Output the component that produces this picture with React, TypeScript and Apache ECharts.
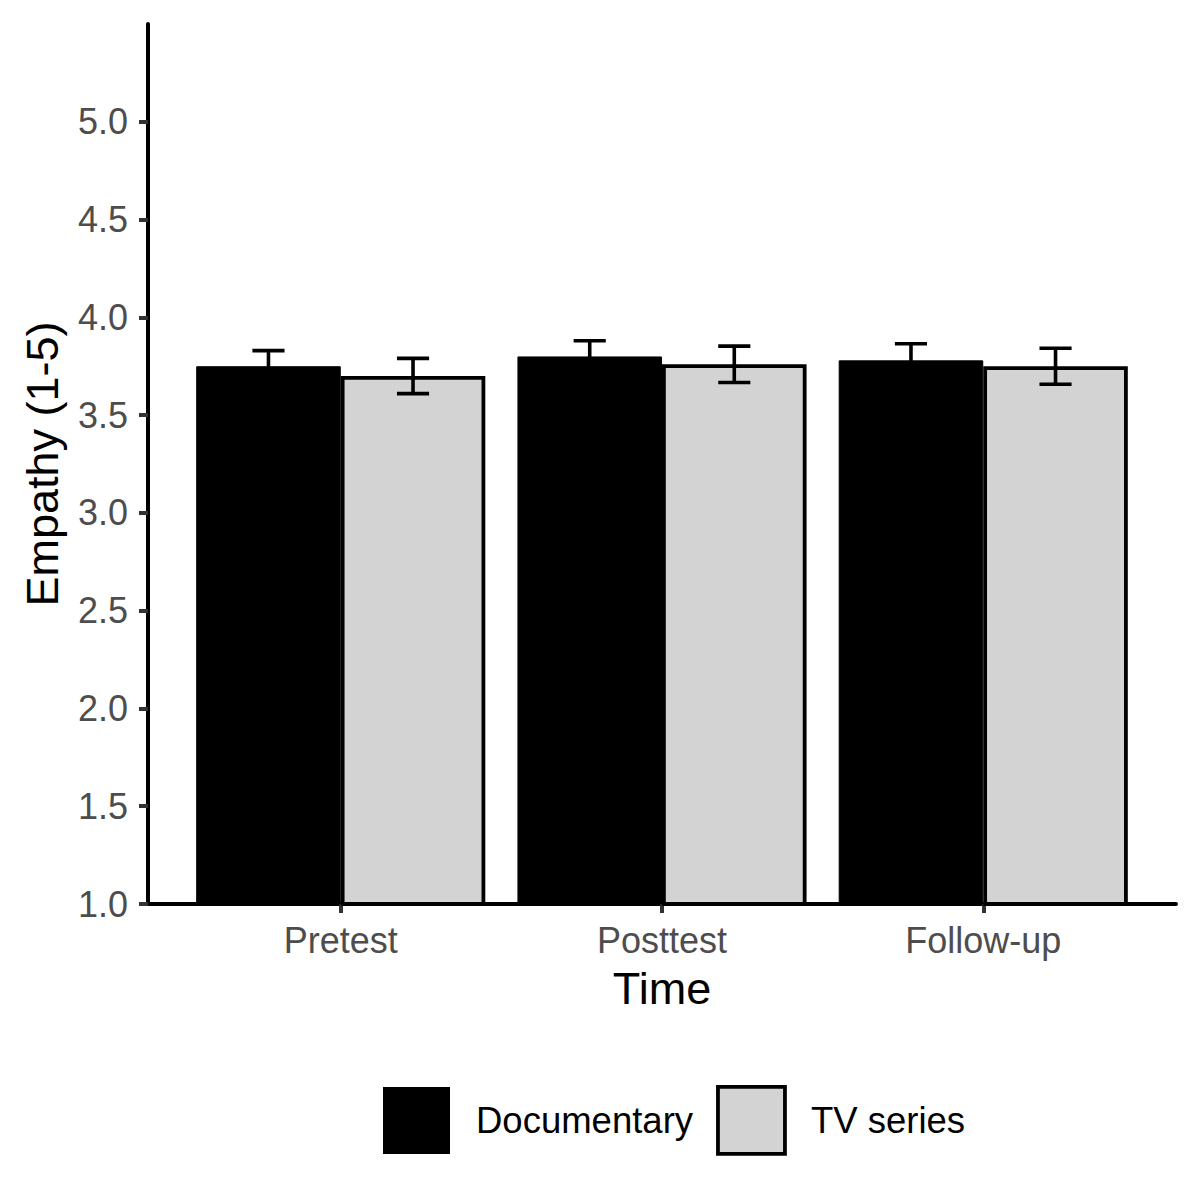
import React, { useEffect, useRef } from 'react';
import * as echarts from 'echarts';

const categories = ['Pretest', 'Posttest', 'Follow-up'];
const categoryPositions = [1, 2, 3];
const seriesNames = ['Documentary', 'TV series'];
const documentaryMeans = [3.75, 3.8, 3.78];
const documentarySE = [0.08, 0.08, 0.085];
const tvMeans = [3.7, 3.76, 3.75];
const tvSE = [0.09, 0.093, 0.092];
const yTicks = [1.0, 1.5, 2.0, 2.5, 3.0, 3.5, 4.0, 4.5, 5.0];

const FONT = '"Liberation Sans", Arial, sans-serif';

export default function App() {
  const ref = useRef<HTMLDivElement>(null);

  useEffect(() => {
    if (!ref.current) return;
    const chart = echarts.init(ref.current, null, { renderer: 'svg' });

    const errData = [
      ...documentaryMeans.map((m, i) => [categoryPositions[i], m, documentarySE[i], -1]),
      ...tvMeans.map((m, i) => [categoryPositions[i], m, tvSE[i], 1]),
    ];

    const option: any = {
      animation: false,
      backgroundColor: '#fff',
      textStyle: { fontFamily: FONT },
      grid: { left: 148, right: 24, top: 24, bottom: 274, containLabel: false },
      legend: {
        left: 383,
        top: 1085,
        padding: 0,
        itemWidth: 67,
        itemHeight: 67,
        itemGap: 23,
        icon: 'rect',
        textStyle: { fontSize: 36.5, color: '#000', fontFamily: FONT, padding: [0, 0, 0, 21] },
        data: [
          { name: seriesNames[0], itemStyle: { color: '#000', borderWidth: 0 } },
          { name: seriesNames[1], itemStyle: { color: '#D3D3D3', borderColor: '#000', borderWidth: 3.8 } },
        ],
      },
      xAxis: {
        type: 'value',
        min: 0.4,
        max: 3.6,
        name: 'Time',
        nameLocation: 'middle',
        nameGap: 62,
        nameTextStyle: { fontSize: 45, color: '#000', fontFamily: FONT },
        axisLine: { show: true, onZero: false, lineStyle: { color: '#000', width: 4 } },
        axisTick: { show: true, customValues: categoryPositions, length: 9, lineStyle: { color: '#333', width: 4 } },
        axisLabel: {
          customValues: categoryPositions,
          formatter: (v: number) => categories[Math.round(v) - 1] ?? '',
          fontSize: 36,
          color: '#4D4D4D',
          margin: 18,
          fontFamily: FONT,
        },
        splitLine: { show: false },
      },
      yAxis: {
        type: 'value',
        min: 1,
        max: 5.5,
        name: 'Empathy (1-5)',
        nameLocation: 'middle',
        nameGap: 83,
        nameTextStyle: { fontSize: 45, color: '#000', fontFamily: FONT },
        axisLine: { show: true, onZero: false, lineStyle: { color: '#000', width: 4 } },
        axisTick: { show: true, customValues: yTicks, length: 9, lineStyle: { color: '#333', width: 4 } },
        axisLabel: {
          customValues: yTicks,
          formatter: (v: number) => v.toFixed(1),
          fontSize: 36,
          color: '#4D4D4D',
          margin: 20,
          fontFamily: FONT,
        },
        splitLine: { show: false },
      },
      series: [
        {
          name: seriesNames[0],
          type: 'bar',
          barWidth: '45%',
          barGap: '0%',
          data: documentaryMeans.map((v, i) => [categoryPositions[i], v]),
          itemStyle: { color: '#000', borderColor: '#000', borderWidth: 1 },
          z: 2,
        },
        {
          name: seriesNames[1],
          type: 'bar',
          barWidth: '45%',
          barGap: '0%',
          data: tvMeans.map((v, i) => [categoryPositions[i], v]),
          itemStyle: { color: '#D3D3D3', borderColor: '#000', borderWidth: 3.8 },
          z: 2,
        },
        {
          name: 'errors',
          type: 'custom',
          z: 5,
          data: errData,
          encode: { x: 0, y: 1 },
          renderItem: (params: any, api: any) => {
            const x = api.value(0);
            const m = api.value(1);
            const se = api.value(2);
            const side = api.value(3);
            const c = api.coord([x, m]);
            const halfBar = api.size([0.225, 0])[0];
            const capHalf = api.size([0.05, 0])[0];
            const cx = c[0] + side * halfBar;
            const top = api.coord([x, m + se])[1];
            const bot = api.coord([x, m - se])[1];
            const style = { stroke: '#000', lineWidth: 3.6, fill: 'none' };
            return {
              type: 'group',
              children: [
                { type: 'line', shape: { x1: cx, y1: top, x2: cx, y2: bot }, style },
                { type: 'line', shape: { x1: cx - capHalf, y1: top, x2: cx + capHalf, y2: top }, style },
                { type: 'line', shape: { x1: cx - capHalf, y1: bot, x2: cx + capHalf, y2: bot }, style },
              ],
            };
          },
        },
      ],
    };

    chart.setOption(option);
    return () => chart.dispose();
  }, []);

  return (
    <div
      ref={ref}
      style={{ position: 'absolute', left: 0, top: 0, width: 1200, height: 1178, background: '#fff' }}
    />
  );
}
